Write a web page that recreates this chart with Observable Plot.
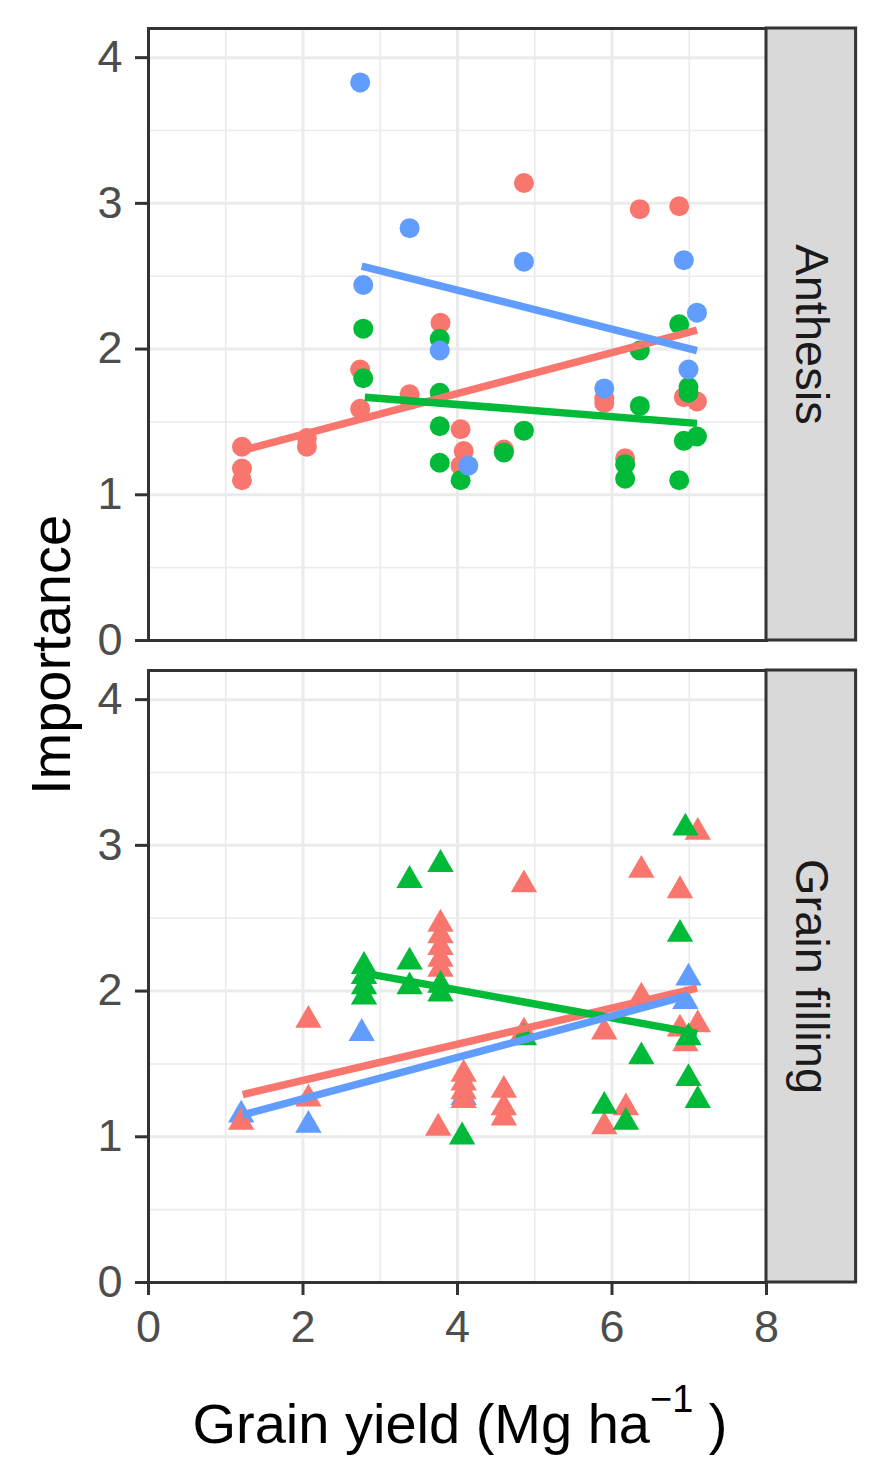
<!DOCTYPE html>
<html>
<head>
<meta charset="utf-8">
<script src="https://cdn.jsdelivr.net/npm/d3@7"></script>
<script src="https://cdn.jsdelivr.net/npm/@observablehq/plot@0.6"></script>
<style>
  html, body { margin: 0; padding: 0; background: #ffffff; }
  #chart svg { display: block; }
</style>
</head>
<body>
<div id="chart"></div>
<script>
// ---------- categories / ticks ----------
const facets = ["Anthesis", "Grain filling"];
const groups = ["Group 1", "Group 2", "Group 3"];
const groupColors = ["#F8766D", "#00BA38", "#619CFF"];
const xTicks = [0, 2, 4, 6, 8];
const xMinor = [1, 3, 5, 7];
const yTicks = [0, 1, 2, 3, 4];
const yMinor = [0.5, 1.5, 2.5, 3.5];

// ---------- Anthesis points [grain yield, importance] ----------
const anthesisRed = [
  [1.21, 1.33], [1.21, 1.18], [1.21, 1.10], [2.05, 1.39], [2.05, 1.33],
  [2.74, 1.86], [2.74, 1.59], [3.38, 1.69], [3.38, 1.65], [3.78, 2.18],
  [4.04, 1.45], [4.08, 1.30], [4.04, 1.20], [4.60, 1.31], [4.86, 3.14],
  [5.90, 1.66], [5.90, 1.63], [6.17, 1.25], [6.36, 2.96], [6.87, 2.98],
  [6.93, 1.67], [7.10, 1.64]
];
const anthesisGreen = [
  [2.78, 2.14], [2.78, 1.80], [3.77, 2.07], [3.77, 1.70], [3.77, 1.47],
  [3.77, 1.22], [4.04, 1.10], [4.60, 1.29], [4.86, 1.44], [6.17, 1.21],
  [6.17, 1.11], [6.36, 1.99], [6.36, 1.61], [6.87, 2.17], [6.87, 1.10],
  [6.99, 1.74], [6.99, 1.70], [6.93, 1.37], [7.10, 1.40]
];
const anthesisBlue = [
  [2.74, 3.83], [2.78, 2.44], [3.38, 2.83], [3.77, 1.99], [4.14, 1.20],
  [4.86, 2.60], [5.90, 1.73], [6.93, 2.61], [6.99, 1.86], [7.10, 2.25]
];

// ---------- Grain filling points ----------
const grainRed = [
  [1.20, 1.10], [2.07, 1.80], [2.07, 1.26], [3.78, 2.46], [3.78, 2.38],
  [3.78, 2.30], [3.78, 2.22], [3.78, 2.15], [3.75, 1.06], [4.08, 1.43],
  [4.08, 1.37], [4.08, 1.31], [4.08, 1.25], [4.60, 1.32], [4.60, 1.20],
  [4.60, 1.13], [4.86, 2.73], [4.86, 1.72], [5.90, 1.72], [5.90, 1.07],
  [6.18, 1.20], [6.38, 2.83], [6.38, 1.96], [6.88, 2.69], [6.88, 1.74],
  [6.95, 1.64], [7.11, 3.09], [7.11, 1.77]
];
const grainGreen = [
  [2.79, 2.17], [2.79, 2.10], [2.79, 2.03], [2.79, 1.96], [3.38, 2.76],
  [3.38, 2.20], [3.38, 2.03], [3.78, 2.87], [3.78, 2.04], [3.78, 1.98],
  [4.06, 1.00], [4.86, 1.68], [5.90, 1.21], [6.18, 1.10], [6.38, 1.55],
  [6.88, 2.39], [6.95, 3.12], [6.99, 1.68], [6.99, 1.40], [7.11, 1.25]
];
const grainBlue = [
  [1.20, 1.15], [2.07, 1.08], [2.76, 1.71], [4.08, 1.27], [6.95, 1.93],
  [6.99, 2.09]
];

// ---------- fitted linear trends (end points) ----------
const anthesisFitRed = [[1.19, 1.30], [7.10, 2.13]];
const anthesisFitGreen = [[2.80, 1.67], [7.10, 1.49]];
const anthesisFitBlue = [[2.76, 2.57], [7.10, 1.99]];
const grainFitRed = [[1.22, 1.29], [7.10, 2.02]];
const grainFitGreen = [[2.83, 2.12], [7.10, 1.71]];
const grainFitBlue = [[1.22, 1.15], [6.99, 1.97]];

// ---------- build tables ----------
const rows = (facet, group, pts) => pts.map(([x, y]) => ({facet, group, x, y}));

const anthesisPts = [
  ...rows(facets[0], groups[0], anthesisRed),
  ...rows(facets[0], groups[1], anthesisGreen),
  ...rows(facets[0], groups[2], anthesisBlue)
];
const grainPts = [
  ...rows(facets[1], groups[2], grainBlue),
  ...rows(facets[1], groups[0], grainRed),
  ...rows(facets[1], groups[1], grainGreen)
];
const fits = [
  ...rows(facets[0], groups[0], anthesisFitRed),
  ...rows(facets[0], groups[1], anthesisFitGreen),
  ...rows(facets[0], groups[2], anthesisFitBlue),
  ...rows(facets[1], groups[0], grainFitRed),
  ...rows(facets[1], groups[1], grainFitGreen),
  ...rows(facets[1], groups[2], grainFitBlue)
];
const strips = facets.map(f => ({facet: f}));

const W = 886, H = 1478;
const mL = 148, mR = 120, mT = 28, mB = 196;
const gap = 30;
const band = (H - mT - mB - gap) / 2;
const tickFont = 45;
const fitWidth = 7.5;

const svg = Plot.plot({
  width: W,
  height: H,
  marginLeft: mL,
  marginRight: mR,
  marginTop: mT,
  marginBottom: mB,
  style: {
    fontFamily: "'Liberation Sans', Arial, Helvetica, sans-serif",
    fontSize: tickFont + "px",
    background: "#ffffff",
    overflow: "visible"
  },
  x: {domain: [0, 8], label: null},
  y: {domain: [0, 4.2], label: null},
  fy: {
    domain: facets,
    paddingInner: gap / (band + gap),
    paddingOuter: 0,
    round: false,
    axis: null,
    label: null
  },
  color: {domain: groups, range: groupColors},
  marks: [
    Plot.ruleX(xMinor, {stroke: "#EBEBEB", strokeWidth: 1.6}),
    Plot.ruleY(yMinor, {stroke: "#EBEBEB", strokeWidth: 1.6}),
    Plot.ruleX(xTicks, {stroke: "#EBEBEB", strokeWidth: 3}),
    Plot.ruleY(yTicks, {stroke: "#EBEBEB", strokeWidth: 3}),
    Plot.dot(anthesisPts, {x: "x", y: "y", fy: "facet", fill: "group", r: 10, symbol: "circle"}),
    Plot.dot(grainPts, {x: "x", y: "y", fy: "facet", fill: "group", r: 9.8, symbol: "triangle"}),
    Plot.line(fits, {x: "x", y: "y", fy: "facet", z: "group", stroke: "group", strokeWidth: fitWidth, strokeLinecap: "butt"}),
    Plot.frame({stroke: "#333333", strokeWidth: 3}),
    Plot.rect(strips, {x1: 8, x2: 9.16, y1: 0, y2: 4.2, fy: "facet", fill: "#D9D9D9", stroke: "#333333", strokeWidth: 3}),
    Plot.text(strips, {x: 8.58, y: 2.1, fy: "facet", text: "facet", rotate: 90, fontSize: 47, fill: "#1A1A1A"}),
    Plot.axisY(yTicks, {
      tickSize: 13, tickPadding: 13, stroke: "#333333", strokeWidth: 3,
      fill: "#4D4D4D", fontSize: tickFont, tickFormat: "d", label: null
    }),
    Plot.axisX(xTicks, {
      tickSize: 13, tickPadding: 15, stroke: "#333333", strokeWidth: 3,
      fill: "#4D4D4D", fontSize: tickFont, tickFormat: "d", label: null
    })
  ]
});

document.getElementById("chart").appendChild(svg);

const s = d3.select(svg);
// enforce tick label size and trend line width
s.selectAll('g[aria-label="y-axis tick label"], g[aria-label="x-axis tick label"]')
  .attr("font-size", tickFont);
s.selectAll('g[aria-label="line"]').attr("stroke-width", fitWidth);

// ---------- axis titles ----------
s.append("text")
  .attr("transform", `translate(70, ${mT + band + gap / 2}) rotate(-90)`)
  .attr("text-anchor", "middle")
  .attr("fill", "#000000")
  .attr("font-size", 56)
  .text("Importance");

const xt = s.append("text")
  .attr("x", mL + (W - mL - mR) / 2 + 3)
  .attr("y", 1443)
  .attr("text-anchor", "middle")
  .attr("fill", "#000000")
  .attr("font-size", 56);
xt.append("tspan").text("Grain yield (Mg ha");
xt.append("tspan").attr("font-size", 38).attr("dy", -31).text("\u22121");
xt.append("tspan").attr("dy", 31).text("\u00a0)");
</script>
</body>
</html>
